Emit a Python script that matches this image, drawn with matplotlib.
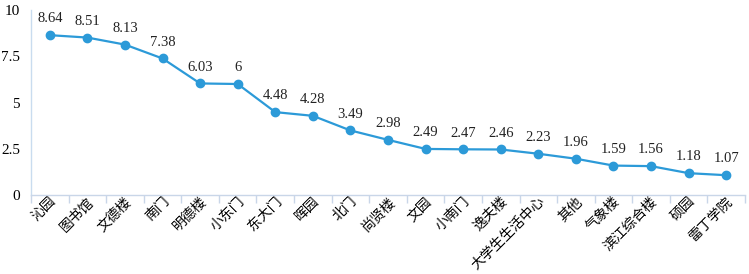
import matplotlib
matplotlib.use("Agg")
import matplotlib.pyplot as plt
from matplotlib.ticker import FixedLocator, NullFormatter

places = ["沁园", "图书馆", "文德楼", "南门", "明德楼", "小东门", "东大门", "晖园", "北门",
          "尚贤楼", "文园", "小南门", "逸夫楼", "大学生生活中心", "其他", "气象楼",
          "滨江综合楼", "硕园", "雷丁学院"]
values = [8.64, 8.51, 8.13, 7.38, 6.03, 6, 4.48, 4.28, 3.49, 2.98, 2.49, 2.47, 2.46,
          2.23, 1.96, 1.59, 1.56, 1.18, 1.07]
value_labels = ["8.64", "8.51", "8.13", "7.38", "6.03", "6", "4.48", "4.28", "3.49",
                "2.98", "2.49", "2.47", "2.46", "2.23", "1.96", "1.59", "1.56", "1.18", "1.07"]
y_ticks = [0, 2.5, 5, 7.5, 10]
y_tick_labels = ["0", "2.5", "5", "7.5", "10"]

fonts = ["Liberation Serif", "Noto Sans CJK SC", "DejaVu Sans"]
plt.rcParams["font.family"] = fonts

fig = plt.figure(figsize=(7.49, 2.74), dpi=100)
ax = fig.add_axes([31 / 749, 79 / 274, 714 / 749, 185 / 274])

x = list(range(len(places)))
ax.plot(x, values, color="#2C9AD8", linewidth=1.6, marker="o", markersize=6,
        markerfacecolor="#2C9AD8", markeredgecolor="#2C9AD8")

for xi, v, lab in zip(x, values, value_labels):
    ax.annotate(lab, (xi, v), xytext=(0, 7), textcoords="offset points",
                ha="center", va="bottom", fontsize=10.5, color="#222222")

ax.set_xlim(-0.5, len(places) - 0.5)
ax.set_ylim(0, 10)
ax.set_yticks(y_ticks)
ax.set_yticklabels(y_tick_labels, fontsize=11)

ax.set_xticks(x)
ax.set_xticklabels(places, rotation=45, ha="right", rotation_mode="anchor", fontsize=10)
ax.tick_params(axis="x", which="major", length=0, pad=0)
ax.xaxis.set_minor_locator(FixedLocator([i - 0.5 for i in range(len(places) + 1)]))
ax.xaxis.set_minor_formatter(NullFormatter())
ax.tick_params(axis="x", which="minor", length=6, color="#C9D6E8", width=1)
ax.tick_params(axis="y", length=0, pad=8)

for s in ["top", "right"]:
    ax.spines[s].set_visible(False)
ax.spines["left"].set_color("#C9DCEF")
ax.spines["bottom"].set_color("#C9D6E8")
ax.spines["left"].set_linewidth(1)
ax.spines["bottom"].set_linewidth(1)

fig.savefig("out.png", dpi=100)
